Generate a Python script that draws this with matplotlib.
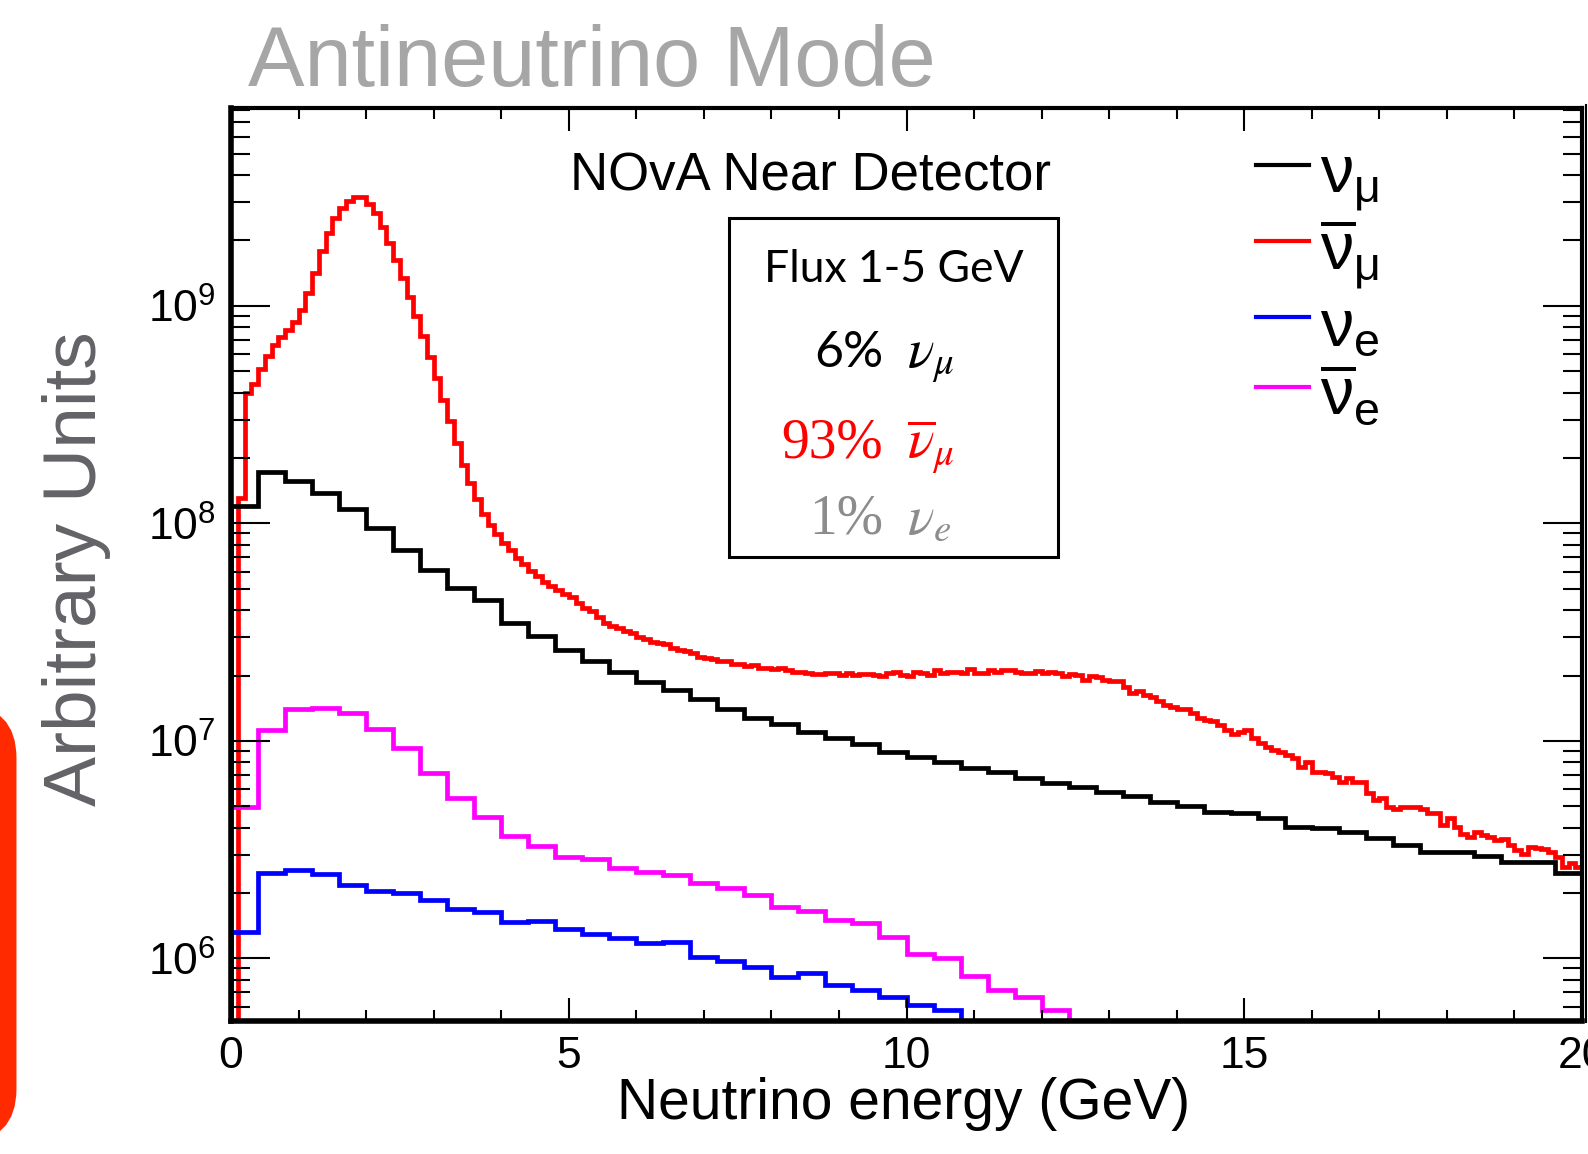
import numpy as np
import matplotlib
matplotlib.use("Agg")
import matplotlib.pyplot as plt
from matplotlib.ticker import MultipleLocator, LogLocator
from matplotlib.lines import Line2D
from matplotlib.patches import Rectangle, FancyBboxPatch

plt.rcParams['font.family'] = ['Liberation Sans', 'DejaVu Sans']
plt.rcParams['mathtext.fontset'] = 'custom'
plt.rcParams['mathtext.rm'] = 'Liberation Sans'
plt.rcParams['mathtext.it'] = 'Liberation Sans:italic'
plt.rcParams['mathtext.bf'] = 'Liberation Sans:bold'

# flux values in units of 1e6 (arbitrary units)
# numubar: 0.1 GeV bins, 0-20 GeV
flux_numubar = [
    0.3, 131, 397, 438, 511, 589, 662, 723, 776, 847,
    959, 1144, 1413, 1797, 2174, 2530, 2812, 3050, 3160, 3160,
    2944, 2667, 2316, 1956, 1628, 1341, 1096, 899, 728, 585,
    465, 370, 297, 234, 186, 153, 129, 111, 98.4, 89.1,
    81.7, 75.2, 69.7, 64.9, 60.7, 57.1, 54.1, 51.4, 49.2, 47.3,
    45.8, 43.3, 40.7, 39.4, 37.3, 35.0, 33.8, 33.0, 32.1, 31.3,
    30.2, 29.3, 28.6, 28.1, 27.9, 26.7, 26.2, 26.0, 25.3, 24.4,
    24.0, 23.7, 23.4, 23.2, 22.6, 22.6, 22.1, 22.3, 21.6, 21.6,
    21.4, 21.6, 21.3, 20.8, 20.8, 20.5, 20.3, 20.3, 20.5, 20.6,
    20.1, 20.6, 20.1, 20.3, 20.3, 20.1, 19.8, 20.6, 20.8, 20.1,
    19.8, 20.8, 20.6, 20.1, 21.2, 20.6, 20.8, 20.8, 20.5, 21.4,
    20.5, 20.5, 21.2, 20.8, 21.2, 21.2, 20.8, 20.6, 20.6, 21.0,
    20.6, 20.8, 20.6, 19.8, 20.3, 20.1, 19.1, 19.8, 19.6, 19.1,
    18.8, 18.8, 17.8, 16.6, 16.9, 16.3, 16.0, 15.2, 14.7, 14.4,
    14.1, 14.1, 13.4, 12.7, 12.5, 12.3, 11.9, 11.2, 10.8, 11.0,
    11.2, 10.3, 9.75, 9.42, 9.10, 8.93, 8.63, 8.32, 7.62, 8.04,
    7.23, 7.23, 7.10, 6.85, 6.50, 6.73, 6.50, 6.45, 5.74, 5.36,
    5.45, 4.99, 4.85, 4.99, 4.99, 4.95, 4.85, 4.68, 4.65, 4.11,
    4.41, 4.04, 3.73, 3.63, 3.83, 3.70, 3.61, 3.51, 3.56, 3.33,
    3.16, 3.02, 3.27, 3.21, 3.18, 3.10, 2.94, 2.64, 2.74, 2.64,
]

# numu: 0.4 GeV bins, 0-20 GeV
flux_numu = [
    120, 173, 156, 138, 116, 95.0, 75.5, 61.1, 50.4, 44.5,
    34.8, 30.5, 26.2, 23.2, 20.8, 18.7, 17.1, 15.6, 14.1, 12.7,
    12.0, 11.0, 10.3, 9.68, 8.93, 8.41, 8.04, 7.48, 7.23, 6.73,
    6.38, 6.17, 5.81, 5.58, 5.22, 5.02, 4.70, 4.68, 4.41, 4.04,
    3.96, 3.83, 3.58, 3.33, 3.08, 3.08, 2.96, 2.77, 2.77, 2.48,
]

# nuebar: 0.4 GeV bins, 0-12.4 GeV (rest below the axis)
flux_nuebar = [
    4.99, 11.2, 14.0, 14.2, 13.5, 11.4, 9.25, 7.14, 5.45, 4.45,
    3.66, 3.30, 2.94, 2.86, 2.62, 2.51, 2.42, 2.22, 2.12, 1.96,
    1.72, 1.66, 1.51, 1.45, 1.25, 1.05, 1.00, 0.832, 0.716, 0.664,
    0.579,
]

# nue: 0.4 GeV bins, 0-10.8 GeV (rest below the axis)
flux_nue = [
    1.33, 2.48, 2.55, 2.44, 2.18, 2.05, 2.01, 1.86, 1.68, 1.63,
    1.47, 1.49, 1.36, 1.30, 1.24, 1.18, 1.19, 1.02, 0.975, 0.910,
    0.826, 0.861, 0.755, 0.716, 0.668, 0.611, 0.579,
]

legend_labels = [r'$\mathrm{\nu_{\mu}}$', r'$\mathrm{\overline{\nu}_{\mu}}$',
                 r'$\mathrm{\nu_{e}}$', r'$\mathrm{\overline{\nu}_{e}}$']
colors = ['black', '#ff0000', '#0000ff', '#ff00ff']

fine_edges = np.linspace(0, 20, len(flux_numubar) + 1)
coarse_edges = np.linspace(0, 20, len(flux_numu) + 1)


def main():
    fig = plt.figure(figsize=(15.88, 11.54), dpi=100)
    ax = fig.add_axes([0.14547, 0.11525, 0.85076, 0.79116])
    ax.set_yscale('log')

    lw = 3.4
    ax.stairs(np.array(flux_numubar) * 1e6, fine_edges, baseline=1e3,
              color=colors[1], lw=lw)
    ax.stairs(np.array(flux_numu) * 1e6, coarse_edges, baseline=1e3,
              color=colors[0], lw=lw)
    ax.stairs(np.array(flux_nuebar) * 1e6, coarse_edges[:len(flux_nuebar) + 1],
              baseline=1e3, color=colors[3], lw=lw)
    ax.stairs(np.array(flux_nue) * 1e6, coarse_edges[:len(flux_nue) + 1],
              baseline=1e3, color=colors[2], lw=lw)

    ax.set_xlim(0, 20)
    ax.set_ylim(5.16e5, 8.13e9)

    ax.xaxis.set_major_locator(MultipleLocator(5))
    ax.xaxis.set_minor_locator(MultipleLocator(1))
    ax.yaxis.set_major_locator(LogLocator(base=10, numticks=20))
    ax.yaxis.set_minor_locator(LogLocator(base=10, subs=np.arange(2, 10), numticks=20))

    ax.tick_params(which='both', direction='in', top=True, right=True,
                   width=1.5, labelsize=32, color='black')
    ax.tick_params(axis='x', which='major', length=16.5, pad=11)
    ax.tick_params(axis='x', which='minor', length=8)
    ax.tick_params(axis='y', which='major', length=28, pad=11)
    ax.tick_params(axis='y', which='minor', length=13.5)
    ax.yaxis.set_minor_formatter(plt.NullFormatter())

    for side in ['left', 'bottom']:
        ax.spines[side].set_linewidth(4)
    for side in ['top', 'right']:
        ax.spines[side].set_linewidth(3)

    # legend
    handles = [Line2D([], [], color=c, lw=3) for c in colors]
    ax.legend(handles, legend_labels, loc='upper left',
              bbox_to_anchor=(0.7587, 0.968), frameon=False, fontsize=48,
              handlelength=0.8, handletextpad=0.16, labelspacing=0.0,
              handleheight=1.13, borderaxespad=0, borderpad=0)

    ax.text(0.4286, 0.910, 'NOvA Near Detector', transform=ax.transAxes,
            ha='center', va='baseline', fontsize=38)

    # flux fraction box
    ax.add_patch(Rectangle((0.3686, 0.5082), 0.6121 - 0.3686, 0.8795 - 0.5082,
                           transform=ax.transAxes, fill=False, lw=2.2,
                           edgecolor='black', zorder=5))
    ax.text(0.4904, 0.8094, 'Flux 1-5 GeV', transform=ax.transAxes,
            ha='center', va='baseline', fontsize=32, family=['Lato', 'DejaVu Sans'])
    ax.text(0.4826, 0.7163, '6%', transform=ax.transAxes, ha='right',
            va='baseline', fontsize=36, family=['Lato', 'DejaVu Sans'])
    ax.text(0.5004, 0.7163, r'$\nu_{\mu}$', transform=ax.transAxes, ha='left',
            va='baseline', fontsize=40, math_fontfamily='stix')
    ax.text(0.4826, 0.6177, '93%', transform=ax.transAxes, ha='right',
            va='baseline', fontsize=40, color='#ff0000',
            family=['Liberation Serif', 'DejaVu Serif'])
    ax.text(0.5004, 0.6177, r'$\overline{\nu}_{\mu}$', transform=ax.transAxes,
            ha='left', va='baseline', fontsize=40, color='#ff0000',
            math_fontfamily='stix')
    ax.text(0.4826, 0.5345, '1%', transform=ax.transAxes, ha='right',
            va='baseline', fontsize=40, color='#8c8c8c',
            family=['Liberation Serif', 'DejaVu Serif'])
    ax.text(0.5004, 0.5345, r'$\nu_{e}$', transform=ax.transAxes, ha='left',
            va='baseline', fontsize=40, color='#8c8c8c', math_fontfamily='stix')

    # titles and axis labels
    fig.text(0.1562, 0.9255, 'Antineutrino Mode', fontsize=61,
             color='#a6a6a6', ha='left', va='baseline')
    fig.text(0.0479, 0.507, 'Arbitrary Units', rotation=90, fontsize=54,
             color='#626267', ha='center', va='center')
    fig.text(0.569, 0.0303, 'Neutrino energy (GeV)', fontsize=41,
             ha='center', va='baseline')

    # canvas border at the right edge
    fig.add_artist(Line2D([0.9985, 0.9985], [0.1144, 0.909],
                          transform=fig.transFigure, color='black', lw=1.5))

    # red highlight frame cut off at the left edge
    fig.add_artist(FancyBboxPatch((-0.6, 0.20), 0.68, 4.21,
                                  boxstyle='round,pad=0,rounding_size=0.45',
                                  transform=fig.dpi_scale_trans,
                                  facecolor='none', edgecolor='#ff2a00', lw=12.2))

    fig.savefig('out.png', dpi=100)


if __name__ == "__main__":
    main()
